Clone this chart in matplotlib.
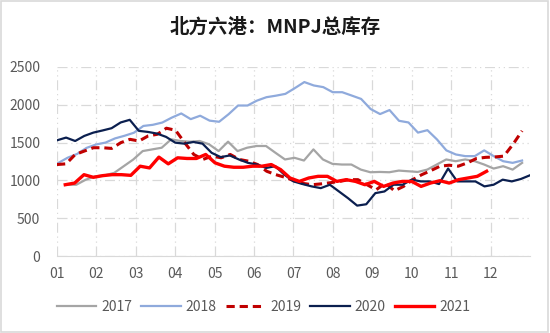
import numpy as np
import matplotlib
matplotlib.use("Agg")
import matplotlib.pyplot as plt
from matplotlib.patches import Rectangle

plt.rcParams['font.family'] = ['Noto Sans CJK SC', 'DejaVu Sans']

months = ['01', '02', '03', '04', '05', '06', '07', '08', '09', '10', '11', '12']

# weekly readings, month span (start, end) for each year
v2017 = [943, 943, 1010, 1054, 1067, 1100, 1188, 1276, 1388, 1410,
         1432, 1543, 1521, 1512, 1521, 1477, 1388, 1512, 1388, 1432,
         1455, 1455, 1365, 1277, 1299, 1263, 1410, 1277, 1219, 1210,
         1210, 1143, 1108, 1112, 1108, 1130, 1121, 1112, 1143, 1210,
         1277, 1254, 1277, 1254, 1210, 1157, 1188, 1143, 1232]
v2018 = [1230, 1300, 1350, 1430, 1475, 1500, 1555, 1590, 1630, 1720,
         1735, 1765, 1830, 1885, 1810, 1855, 1790, 1775, 1875, 1990,
         1990, 2055, 2100, 2120, 2144, 2220, 2300, 2255, 2233, 2166,
         2166, 2122, 2077, 1944, 1877, 1930, 1788, 1766, 1632, 1664,
         1543, 1397, 1343, 1321, 1321, 1397, 1321, 1254, 1232, 1263]
v2019 = [1210, 1219, 1343, 1388, 1432, 1432, 1423, 1499, 1543, 1521,
         1588, 1610, 1690, 1663, 1499, 1343, 1277, 1321, 1299, 1343,
         1277, 1254, 1210, 1121, 1076, 1041, 996, 960, 943, 955,
         970, 987, 1010, 1010, 943, 876, 965, 863, 921, 1010,
         1076, 1130, 1188, 1201, 1188, 1232, 1290, 1305, 1310, 1321,
         1477, 1655]
v2020 = [1530, 1566, 1521, 1588, 1632, 1660, 1690, 1766, 1801, 1655,
         1641, 1619, 1575, 1499, 1486, 1508, 1486, 1365, 1308, 1330,
         1277, 1232, 1210, 1165, 1188, 1076, 987, 952, 921, 898,
         943, 854, 765, 667, 685, 832, 854, 943, 943, 1010,
         987, 987, 952, 1157, 987, 987, 987, 921, 943, 1010,
         987, 1019, 1068]
v2021 = [943, 965, 1076, 1041, 1063, 1076, 1076, 1067, 1188, 1165,
         1308, 1219, 1299, 1290, 1290, 1343, 1232, 1188, 1174, 1174,
         1188, 1188, 1210, 1143, 1032, 987, 1032, 1054, 1054, 987,
         1010, 987, 943, 987, 921, 965, 987, 987, 921, 965,
         996, 965, 1010, 1032, 1054, 1121]

series = [
    ('2017', v2017, (0.25, 11.8), '#A5A5A5', '-', 1.6),
    ('2018', v2018, (0.03, 11.8), '#8FAADC', '-', 1.6),
    ('2019', v2019, (0.0, 11.8), '#C00000', (0, (2.7, 1.6)), 2.2),
    ('2020', v2020, (0.0, 12.0), '#0B1F4F', '-', 1.6),
    ('2021', v2021, (0.21, 10.9), '#FF0000', '-', 2.4),
]

fig = plt.figure(figsize=(5.5, 3.33), dpi=100)
ax = fig.add_axes([0.1036, 0.231, 0.86, 0.568])

for name, vals, (x0, x1), col, ls, lw in series:
    x = np.linspace(x0, x1, len(vals))
    ax.plot(x, vals, color=col, linestyle=ls, linewidth=lw, label=name)

ax.set_xlim(0, 12)
ax.set_ylim(0, 2500)
ax.set_yticks(np.arange(0, 2501, 500))
ax.set_xticks(np.arange(0, 12))
ax.set_xticklabels(months)

grid_dash = (0, (8, 3, 1, 3, 1, 3))
ax.grid(True, color='#D9D9D9', linewidth=0.9, linestyle=grid_dash)
ax.set_axisbelow(True)
for s in ['top', 'right', 'left']:
    ax.spines[s].set_visible(False)
ax.spines['bottom'].set_color('#D9D9D9')
ax.tick_params(axis='both', length=0, labelsize=10, labelcolor='#595959')
ax.tick_params(axis='x', pad=8)
ax.tick_params(axis='y', pad=12)

fig.text(0.5, 0.918, '北方六港：MNPJ总库存', ha='center', va='center',
         fontsize=14, fontweight='bold', color='#1A1A1A')

leg = fig.legend(loc='center', bbox_to_anchor=(0.479, 0.078), ncol=5,
                 frameon=False, fontsize=10, handlelength=2.85,
                 columnspacing=0.65, handletextpad=0.35)
for t in leg.get_texts():
    t.set_color('#595959')

fig.patches.append(Rectangle((0.002, 0.003), 0.995, 0.994, transform=fig.transFigure,
                             fill=False, edgecolor='#D9D9D9', linewidth=1.2))

fig.savefig('out.png', dpi=100)
